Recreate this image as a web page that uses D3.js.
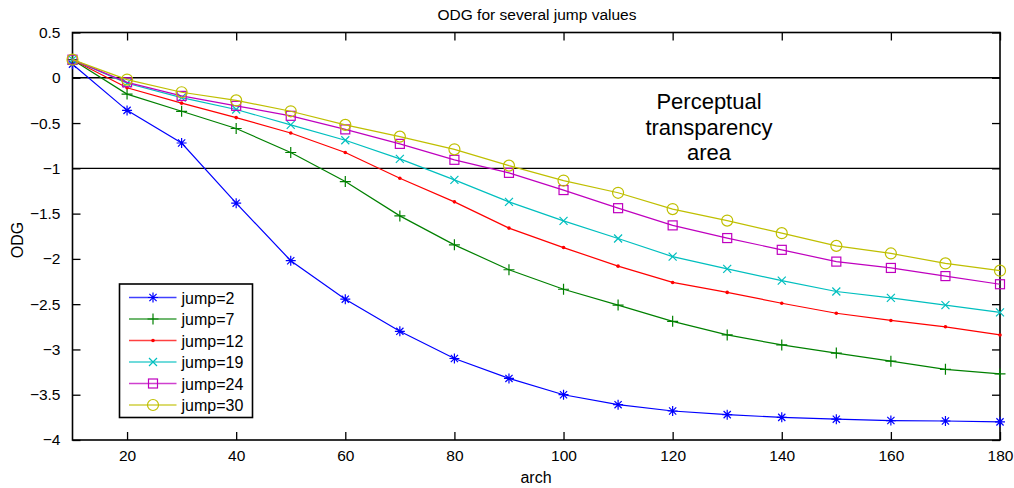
<!DOCTYPE html>
<html>
<head>
<meta charset="utf-8">
<script src="https://cdn.jsdelivr.net/npm/d3@7"></script>
<style>
  body { margin: 0; background: #fff; }
  svg text { font-family: "Liberation Sans", Arial, sans-serif; fill: #000; }
</style>
</head>
<body>
<svg id="chart" width="1014" height="488"></svg>
<script>
// data
var arch = [10, 20, 30, 40, 50, 60, 70, 80, 90, 100, 110, 120, 130, 140, 150, 160, 170, 180]
var jumpNames = ["jump=2", "jump=7", "jump=12", "jump=19", "jump=24", "jump=30"]
var jump2  = [0.15, -0.36, -0.72, -1.385, -2.02, -2.445, -2.80, -3.10, -3.32, -3.50, -3.61, -3.68, -3.72, -3.75, -3.77, -3.785, -3.79, -3.80]
var jump7  = [0.20, -0.18, -0.37, -0.56, -0.825, -1.146, -1.525, -1.845, -2.12, -2.335, -2.51, -2.69, -2.84, -2.95, -3.04, -3.13, -3.22, -3.27]
var jump12 = [0.20, -0.11, -0.28, -0.44, -0.61, -0.825, -1.11, -1.37, -1.66, -1.875, -2.08, -2.26, -2.37, -2.49, -2.60, -2.68, -2.75, -2.84]
var jump19 = [0.20, -0.06, -0.22, -0.35, -0.52, -0.69, -0.895, -1.127, -1.37, -1.58, -1.775, -1.975, -2.11, -2.24, -2.36, -2.43, -2.51, -2.59]
var jump24 = [0.20, -0.05, -0.20, -0.31, -0.42, -0.57, -0.73, -0.906, -1.05, -1.24, -1.44, -1.63, -1.77, -1.90, -2.03, -2.10, -2.19, -2.28]
var jump30 = [0.20, -0.02, -0.16, -0.25, -0.37, -0.52, -0.65, -0.79, -0.97, -1.135, -1.27, -1.45, -1.577, -1.716, -1.856, -1.94, -2.05, -2.13]
var xTicks = [20, 40, 60, 80, 100, 120, 140, 160, 180]
var yTicks = [0.5, 0, -0.5, -1, -1.5, -2, -2.5, -3, -3.5, -4]
var refLines = [0, -1]
var noteLines = ["Perceptual", "transparency", "area"]

var series = [jump2, jump7, jump12, jump19, jump24, jump30]
var colors = ["#0000ff", "#008000", "#ff0000", "#00bfbf", "#bf00bf", "#bfbf00"]
var markers = ["star", "plus", "dot", "cross", "square", "circle"]

var svg = d3.select("#chart")
var plotLeft = 72.5, plotRight = 1000, plotTop = 32.5, plotBottom = 440

var xScale = d3.scaleLinear().domain([10, 180]).range([plotLeft, plotRight])
var yScale = d3.scaleLinear().domain([-4, 0.5]).range([plotBottom, plotTop])

function fmt(d) { return String(d).replace("-", "\u2212") }

// reference lines at 0 and -1
svg.append("g").selectAll("line")
    .data(refLines)
    .enter()
    .append("line")
    .attr("x1", plotLeft).attr("x2", plotRight)
    .attr("y1", function(d) { return yScale(d) })
    .attr("y2", function(d) { return yScale(d) })
    .attr("stroke", "#000")
    .attr("stroke-width", 1.4)

// axes, ticks pointing inward
var gx = svg.append("g")
    .attr("transform", "translate(0," + plotBottom + ")")
    .call(d3.axisBottom(xScale).tickValues(xTicks).tickSize(-8).tickPadding(8).tickFormat(fmt))
var gxTop = svg.append("g")
    .attr("transform", "translate(0," + plotTop + ")")
    .call(d3.axisTop(xScale).tickValues(xTicks).tickSize(-8).tickFormat(""))
var gy = svg.append("g")
    .attr("transform", "translate(" + plotLeft + ",0)")
    .call(d3.axisLeft(yScale).tickValues(yTicks).tickSize(-8).tickPadding(12).tickFormat(fmt))
var gyRight = svg.append("g")
    .attr("transform", "translate(" + plotRight + ",0)")
    .call(d3.axisRight(yScale).tickValues(yTicks).tickSize(-8).tickFormat(""))

svg.selectAll(".domain").remove()
svg.selectAll(".tick line").attr("stroke", "#000").attr("stroke-width", 1.3)
svg.selectAll(".tick text").style("font-size", "15.5px").style("font-family", "Liberation Sans, Arial, sans-serif")
gx.selectAll(".tick text").attr("dy", "0.85em")

svg.append("rect")
    .attr("x", plotLeft).attr("y", plotTop)
    .attr("width", plotRight - plotLeft).attr("height", plotBottom - plotTop)
    .attr("fill", "none")
    .attr("stroke", "#000")
    .attr("stroke-width", 1.6)

// markers
function drawMarker(g, kind, color) {
    if (kind == "star") {
        g.append("path").attr("d", "M-5,0H5M0,-5V5M-3.6,-3.6L3.6,3.6M-3.6,3.6L3.6,-3.6")
            .attr("stroke", color).attr("stroke-width", 1.2).attr("fill", "none")
    } else if (kind == "plus") {
        g.append("path").attr("d", "M-5.5,0H5.5M0,-5.5V5.5")
            .attr("stroke", color).attr("stroke-width", 1.2).attr("fill", "none")
    } else if (kind == "dot") {
        g.append("circle").attr("r", 1.8).attr("fill", color)
    } else if (kind == "cross") {
        g.append("path").attr("d", "M-4,-4L4,4M-4,4L4,-4")
            .attr("stroke", color).attr("stroke-width", 1.2).attr("fill", "none")
    } else if (kind == "square") {
        g.append("rect").attr("x", -4.5).attr("y", -4.5).attr("width", 9).attr("height", 9)
            .attr("stroke", color).attr("stroke-width", 1.2).attr("fill", "none")
    } else {
        g.append("circle").attr("r", 5.5)
            .attr("stroke", color).attr("stroke-width", 1.2).attr("fill", "none")
    }
}

var line = d3.line()
    .x(function(d, i) { return xScale(arch[i]) })
    .y(function(d) { return yScale(d) })

var plot = svg.append("g")
series.forEach(function(s, k) {
    plot.append("path")
        .attr("d", line(s))
        .attr("fill", "none")
        .attr("stroke", colors[k])
        .attr("stroke-width", 1.2)
    s.forEach(function(v, i) {
        var g = plot.append("g")
            .attr("transform", "translate(" + xScale(arch[i]) + "," + yScale(v) + ")")
        drawMarker(g, markers[k], colors[k])
    })
})

// note text
svg.append("text")
    .attr("text-anchor", "middle")
    .style("font-size", "22px")
    .selectAll("tspan")
    .data(noteLines)
    .enter()
    .append("tspan")
    .attr("x", 709)
    .attr("y", function(d, i) { return 109.3 + i * 25.5 })
    .text(function(d) { return d })

// legend
var legend = svg.append("g")
legend.append("rect")
    .attr("x", 119.5).attr("y", 284)
    .attr("width", 133).attr("height", 133.5)
    .attr("fill", "#fff")
    .attr("stroke", "#000")
    .attr("stroke-width", 1.6)
jumpNames.forEach(function(name, k) {
    var y = 297.5 + k * 21.5
    legend.append("line")
        .attr("x1", 129).attr("x2", 176.5)
        .attr("y1", y).attr("y2", y)
        .attr("stroke", colors[k]).attr("stroke-width", 1.6)
        .attr("stroke-opacity", 0.75)
    drawMarker(legend.append("g").attr("transform", "translate(153," + y + ")"), markers[k], colors[k])
    legend.append("text")
        .attr("x", 181.5).attr("y", y + 6)
        .style("font-size", "16px")
        .text(name)
})

// titles
svg.append("text")
    .attr("x", 537).attr("y", 20)
    .attr("text-anchor", "middle")
    .style("font-size", "15.5px")
    .text("ODG for several jump values")
svg.append("text")
    .attr("x", 536).attr("y", 482.5)
    .attr("text-anchor", "middle")
    .style("font-size", "16px")
    .text("arch")
svg.append("text")
    .attr("transform", "translate(23,240) rotate(-90)")
    .attr("text-anchor", "middle")
    .style("font-size", "16px")
    .text("ODG")
</script>
</body>
</html>
